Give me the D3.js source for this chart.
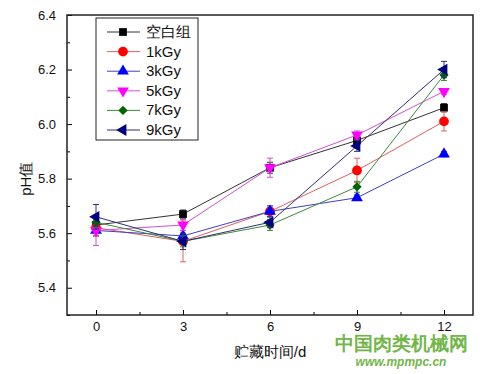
<!DOCTYPE html>
<html>
<head>
<meta charset="utf-8">
<script src="https://cdn.jsdelivr.net/npm/d3@7"></script>
<style>
  body { margin: 0; background: #fff; }
  text { font-family: Arial, "Liberation Sans", sans-serif; }
</style>
</head>
<body>
<script>
var width  = 500
var height = 374
var margin = { top: 15, right: 27, bottom: 59, left: 67 }

// storage days
var days = [0, 3, 6, 9, 12]
var seriesNames = ['空白组', '1kGy', '3kGy', '5kGy', '7kGy', '9kGy']

// pH values
var blank = [5.63, 5.67, 5.84, 5.94, 6.06]
var kGy1  = [5.62, 5.57, 5.68, 5.83, 6.01]
var kGy3  = [5.61, 5.59, 5.68, 5.73, 5.89]
var kGy5  = [5.61, 5.63, 5.84, 5.96, 6.12]
var kGy7  = [5.64, 5.57, 5.63, 5.77, 6.18]
var kGy9  = [5.66, 5.57, 5.64, 5.92, 6.20]

// error bar half-lengths
var errBlank = [0.02, 0.015, 0.02, 0.02, 0.015]
var errKGy1  = [0.03, 0.075, 0.02, 0.045, 0.035]
var errKGy3  = [0.02, 0.02, 0.02, 0.01, 0.01]
var errKGy5  = [0.055, 0.02, 0.035, 0.015, 0.01]
var errKGy7  = [0.02, 0.02, 0.02, 0.02, 0.02]
var errKGy9  = [0.045, 0.03, 0.02, 0.02, 0.03]

var xTicks = [0, 3, 6, 9, 12]
var yTicks = [5.4, 5.6, 5.8, 6.0, 6.2, 6.4]

var colors  = ['#000000', '#ff0000', '#0000ff', '#ff00ff', '#006400', '#000080']
var lineCol = ['#333333', '#e06060', '#4040c0', '#d050d0', '#3a8a3a', '#303070']
var symbols = [
  { type: d3.symbolSquare,   size: 60, rot: 0 },
  { type: d3.symbolCircle,   size: 75, rot: 0 },
  { type: d3.symbolTriangle, size: 60, rot: 0 },
  { type: d3.symbolTriangle, size: 60, rot: 180 },
  { type: d3.symbolDiamond2, size: 55, rot: 0 },
  { type: d3.symbolTriangle, size: 60, rot: -90 }
]

var values = [blank, kGy1, kGy3, kGy5, kGy7, kGy9]
var errors = [errBlank, errKGy1, errKGy3, errKGy5, errKGy7, errKGy9]

var series = seriesNames.map((name, i) => ({
  name: name,
  i: i,
  points: days.map((d, j) => ({ day: d, v: values[i][j], e: errors[i][j] }))
}))

var svg = d3.select('body')
  .append('svg')
  .attr('width', width)
  .attr('height', height)

var xScale = d3.scaleLinear()
  .domain([-1, 13])
  .range([margin.left, width - margin.right])

var yScale = d3.scaleLinear()
  .domain([5.3, 6.4])
  .range([height - margin.bottom, margin.top])

// axes with inward ticks
var xAxis = d3.axisBottom(xScale)
  .tickValues(xTicks)
  .tickSizeInner(-5)
  .tickSizeOuter(0)
  .tickPadding(7)

var xMinor = d3.axisBottom(xScale)
  .tickValues([1.5, 4.5, 7.5, 10.5])
  .tickSizeInner(-3)
  .tickSizeOuter(0)
  .tickFormat('')

var yAxis = d3.axisLeft(yScale)
  .tickValues(yTicks)
  .tickSizeInner(-5)
  .tickSizeOuter(0)
  .tickPadding(11)
  .tickFormat(d3.format('.1f'))

var yMinor = d3.axisLeft(yScale)
  .tickValues([5.3, 5.5, 5.7, 5.9, 6.1, 6.3])
  .tickSizeInner(-3)
  .tickSizeOuter(0)
  .tickFormat('')

function styleAxis(g) {
  g.select('.domain').remove()
  g.selectAll('line').attr('stroke', '#000').attr('stroke-width', 1)
  g.selectAll('text').attr('font-size', 13).attr('fill', '#111')
}

svg.append('g')
  .attr('transform', 'translate(' + [0, height - margin.bottom] + ')')
  .call(xAxis).call(styleAxis)
svg.append('g')
  .attr('transform', 'translate(' + [0, height - margin.bottom] + ')')
  .call(xMinor).call(styleAxis)
svg.append('g')
  .attr('transform', 'translate(' + [margin.left, 0] + ')')
  .call(yAxis).call(styleAxis)
svg.append('g')
  .attr('transform', 'translate(' + [margin.left, 0] + ')')
  .call(yMinor).call(styleAxis)

// frame
svg.append('rect')
  .attr('x', margin.left)
  .attr('y', margin.top)
  .attr('width', width - margin.left - margin.right)
  .attr('height', height - margin.top - margin.bottom)
  .attr('fill', 'none')
  .attr('stroke', '#222')
  .attr('stroke-width', 1.5)

// axis titles
svg.append('text')
  .attr('x', xScale(6))
  .attr('y', 357)
  .attr('text-anchor', 'middle')
  .attr('font-size', 15)
  .attr('fill', '#111')
  .text('贮藏时间/d')

svg.append('text')
  .attr('transform', 'translate(31,' + yScale(5.8) + ') rotate(-90)')
  .attr('text-anchor', 'middle')
  .attr('font-size', 15)
  .attr('fill', '#111')
  .text('pH值')

var line = d3.line()
  .x(d => xScale(d.day))
  .y(d => yScale(d.v))

var groups = svg.selectAll('.series')
  .data(series)
  .enter()
  .append('g')
  .attr('class', 'series')

groups.append('path')
  .attr('d', d => line(d.points))
  .attr('fill', 'none')
  .attr('stroke', d => lineCol[d.i])
  .attr('stroke-width', 1)

// error bars
groups.each(function(s) {
  var g = d3.select(this)
  var eb = g.selectAll('.err')
    .data(s.points)
    .enter()
    .append('g')
    .attr('stroke', lineCol[s.i])
    .attr('stroke-width', 1)
  eb.append('line')
    .attr('x1', d => xScale(d.day)).attr('x2', d => xScale(d.day))
    .attr('y1', d => yScale(d.v - d.e)).attr('y2', d => yScale(d.v + d.e))
  eb.append('line')
    .attr('x1', d => xScale(d.day) - 3).attr('x2', d => xScale(d.day) + 3)
    .attr('y1', d => yScale(d.v + d.e)).attr('y2', d => yScale(d.v + d.e))
  eb.append('line')
    .attr('x1', d => xScale(d.day) - 3).attr('x2', d => xScale(d.day) + 3)
    .attr('y1', d => yScale(d.v - d.e)).attr('y2', d => yScale(d.v - d.e))
})

// markers
groups.each(function(s) {
  var sym = symbols[s.i]
  d3.select(this).selectAll('.mark')
    .data(s.points)
    .enter()
    .append('path')
    .attr('d', d3.symbol().type(sym.type).size(sym.size))
    .attr('transform', d => 'translate(' + [xScale(d.day), yScale(d.v)] + ') rotate(' + sym.rot + ')')
    .attr('fill', colors[s.i])
})

// legend
var legend = svg.append('g')
legend.append('rect')
  .attr('x', 96).attr('y', 18)
  .attr('width', 102).attr('height', 122)
  .attr('fill', '#fff')
  .attr('stroke', '#222')
  .attr('stroke-width', 1)

var items = legend.selectAll('.item')
  .data(series)
  .enter()
  .append('g')
  .attr('transform', (d, i) => 'translate(0,' + (32 + i * 19.6) + ')')

items.append('line')
  .attr('x1', 107).attr('x2', 140)
  .attr('stroke', d => lineCol[d.i])
  .attr('stroke-width', 1)

items.append('path')
  .attr('d', d => d3.symbol().type(symbols[d.i].type).size(symbols[d.i].size)())
  .attr('transform', d => 'translate(123,0) rotate(' + symbols[d.i].rot + ')')
  .attr('fill', d => colors[d.i])

items.append('text')
  .attr('x', 146)
  .attr('y', 5)
  .attr('font-size', 15)
  .attr('fill', '#111')
  .text(d => d.name)

// watermark
svg.append('text')
  .attr('x', 401).attr('y', 350)
  .attr('text-anchor', 'middle')
  .attr('font-size', 19)
  .attr('font-weight', 'bold')
  .attr('fill', '#72b64a')
  .text('中国肉类机械网')

svg.append('text')
  .attr('x', 401).attr('y', 366)
  .attr('text-anchor', 'middle')
  .attr('font-size', 12)
  .attr('font-style', 'italic')
  .attr('font-weight', 'bold')
  .attr('fill', '#72b64a')
  .text('www.mpmpc.cn')
</script>
</body>
</html>
